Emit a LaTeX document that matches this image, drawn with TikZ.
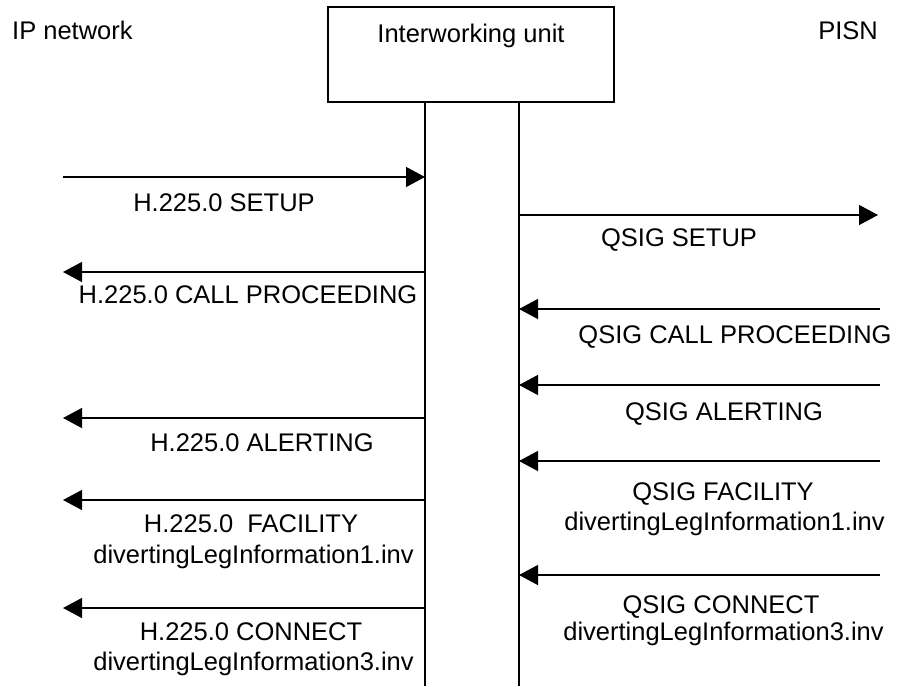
\documentclass[tikz,border=0pt]{standalone}
\usepackage{fontspec}
\setmainfont{Liberation Sans}
\usetikzlibrary{arrows.meta}

\begin{document}
\begin{tikzpicture}[x=1pt, y=-1pt,
    lbl/.style={inner sep=0pt, anchor=base, font=\fontsize{25.5}{30}\selectfont},
    unitbox/.style={draw, line width=1.6pt, minimum width=286pt, minimum height=95pt, inner sep=0pt},
    lifeline/.style={line width=1.3pt},
    msg/.style={line width=1.3pt, -{Triangle[length=19pt, width=20pt]}}]
  \useasboundingbox (0,0) rectangle (902,686);

  % headings
  \node[lbl, anchor=base west] (ipnet) at (12,39) {IP network};
  \node[lbl, anchor=base east] (pisn) at (878,39) {PISN};
  \node[unitbox] (iwu) at (471,54.5) {};
  \node[lbl] (iwutext) at (471,42) {Interworking unit};

  % lifelines of the interworking unit
  \coordinate (ipTop) at (425,102);
  \coordinate (ipBot) at (425,686);
  \coordinate (qsTop) at (519,102);
  \coordinate (qsBot) at (519,686);
  \draw[lifeline] (ipTop) -- (ipBot);
  \draw[lifeline] (qsTop) -- (qsBot);

  % outer ends of the messages
  \coordinate (l1) at (63,177);   \coordinate (m1) at (425,177);
  \coordinate (m2) at (519,215);  \coordinate (r2) at (878,215);
  \coordinate (m3) at (425,272);  \coordinate (l3) at (63,272);
  \coordinate (r4) at (880,309);  \coordinate (m4) at (519,309);
  \coordinate (r5) at (880,385);  \coordinate (m5) at (519,385);
  \coordinate (m6) at (425,418);  \coordinate (l6) at (63,418);
  \coordinate (r7) at (880,461);  \coordinate (m7) at (519,461);
  \coordinate (m8) at (425,500);  \coordinate (l8) at (63,500);
  \coordinate (r9) at (880,575);  \coordinate (m9) at (519,575);
  \coordinate (m10) at (425,608); \coordinate (l10) at (63,608);

  % messages
  \draw[msg] (l1) -- (m1);
  \draw[msg] (m2) -- (r2);
  \draw[msg] (m3) -- (l3);
  \draw[msg] (r4) -- (m4);
  \draw[msg] (r5) -- (m5);
  \draw[msg] (m6) -- (l6);
  \draw[msg] (r7) -- (m7);
  \draw[msg] (m8) -- (l8);
  \draw[msg] (r9) -- (m9);
  \draw[msg] (m10) -- (l10);

  % message labels
  \node[lbl] (t1) at (224,211.7) {H.225.0 SETUP};
  \node[lbl] (t2) at (679,246.7) {QSIG SETUP};
  \node[lbl] (t3) at (248,303.3) {H.225.0 CALL PROCEEDING};
  \node[lbl] (t4) at (735,343.3) {QSIG CALL PROCEEDING};
  \node[lbl] (t5) at (724,420) {QSIG ALERTING};
  \node[lbl] (t6) at (262,451.7) {H.225.0 ALERTING};
  \node[lbl] (t7a) at (723,500) {QSIG FACILITY};
  \node[lbl] (t7b) at (724.5,530) {divertingLegInformation1.inv};
  \node[lbl] (t8a) at (251,532.3) {H.225.0\ \ FACILITY};
  \node[lbl] (t8b) at (253.5,563.3) {divertingLegInformation1.inv};
  \node[lbl] (t9a) at (721,613.3) {QSIG CONNECT};
  \node[lbl] (t9b) at (723.5,640) {divertingLegInformation3.inv};
  \node[lbl] (t10a) at (251,640) {H.225.0 CONNECT};
  \node[lbl] (t10b) at (253.5,670) {divertingLegInformation3.inv};
\end{tikzpicture}
\end{document}
